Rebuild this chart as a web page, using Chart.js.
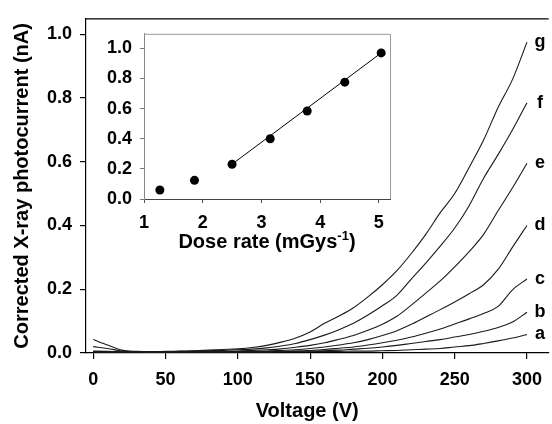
<!DOCTYPE html>
<html>
<head>
<meta charset="utf-8">
<script src="https://cdn.jsdelivr.net/npm/chart.js@4.4.1/dist/chart.umd.min.js"></script>
<style>
  body { margin: 0; background: #fff; }
  #wrap { position: relative; width: 552px; height: 424px; background: #fff; }
  #mainChart { position: absolute; left: 0; top: 0; }
  #insetChart { position: absolute; left: 88px; top: 15px; }
</style>
</head>
<body>
<div id="wrap">
  <canvas id="mainChart" width="552" height="424"></canvas>
  <canvas id="insetChart" width="310" height="240"></canvas>
</div>
<script>
/* ======================================
   DATA
====================================== */
const voltage = [0, 10, 20, 30, 40, 50, 60, 70, 80, 90, 100, 110, 120, 130, 140, 150,
                 160, 170, 180, 190, 200, 210, 220, 230, 240, 250, 260, 270, 280, 290, 300];

const curveA = [0.003, 0.003, 0.003, 0.003, 0.003, 0.003, 0.003, 0.003, 0.003, 0.003, 0.003, 0.003, 0.003, 0.004, 0.004, 0.004,
                0.005, 0.005, 0.006, 0.006, 0.007, 0.008, 0.010, 0.012, 0.014, 0.019, 0.023, 0.030, 0.038, 0.047, 0.058];
const curveB = [0.003, 0.003, 0.003, 0.003, 0.003, 0.003, 0.003, 0.003, 0.003, 0.003, 0.003, 0.004, 0.004, 0.004, 0.005, 0.006,
                0.007, 0.009, 0.012, 0.015, 0.019, 0.024, 0.030, 0.036, 0.042, 0.050, 0.058, 0.068, 0.080, 0.097, 0.128];
const curveC = [0.004, 0.003, 0.003, 0.003, 0.003, 0.003, 0.003, 0.003, 0.003, 0.004, 0.004, 0.004, 0.004, 0.005, 0.006, 0.008,
                0.011, 0.015, 0.019, 0.025, 0.032, 0.040, 0.050, 0.062, 0.075, 0.091, 0.107, 0.124, 0.146, 0.198, 0.232];
const curveD = [0.004, 0.004, 0.004, 0.004, 0.003, 0.003, 0.004, 0.004, 0.004, 0.004, 0.004, 0.005, 0.006, 0.008, 0.010, 0.014,
                0.019, 0.025, 0.032, 0.042, 0.055, 0.070, 0.090, 0.113, 0.136, 0.160, 0.186, 0.214, 0.262, 0.332, 0.400];
const curveE = [0.006, 0.005, 0.004, 0.004, 0.004, 0.004, 0.004, 0.005, 0.005, 0.005, 0.006, 0.008, 0.010, 0.013, 0.018, 0.024,
                0.032, 0.043, 0.055, 0.071, 0.090, 0.115, 0.150, 0.188, 0.226, 0.270, 0.318, 0.372, 0.446, 0.518, 0.595];
const curveF = [0.020, 0.014, 0.006, 0.004, 0.004, 0.004, 0.005, 0.006, 0.007, 0.008, 0.010, 0.012, 0.016, 0.022, 0.030, 0.042,
                0.056, 0.073, 0.093, 0.119, 0.148, 0.181, 0.232, 0.282, 0.335, 0.392, 0.462, 0.548, 0.622, 0.700, 0.785];
const curveG = [0.042, 0.025, 0.009, 0.005, 0.004, 0.005, 0.006, 0.007, 0.009, 0.011, 0.013, 0.017, 0.024, 0.034, 0.047, 0.066,
                0.093, 0.116, 0.142, 0.176, 0.214, 0.258, 0.312, 0.372, 0.440, 0.500, 0.582, 0.668, 0.770, 0.858, 0.975];

const curveNames = ["a", "b", "c", "d", "e", "f", "g"];
const curves = [curveA, curveB, curveC, curveD, curveE, curveF, curveG];

const xTicks = [0, 50, 100, 150, 200, 250, 300];
const yTicks = [0, 0.2, 0.4, 0.6, 0.8, 1.0];

// inset: photocurrent vs dose rate
const doseRate = [1.27, 1.86, 2.50, 3.15, 3.78, 4.42, 5.04];
const doseCurrent = [0.060, 0.124, 0.231, 0.400, 0.584, 0.776, 0.970];
const fitX = [2.50, 5.04];
const fitY = [0.231, 0.970];
const insetXTicks = [1, 2, 3, 4, 5];
const insetYTicks = [0, 0.2, 0.4, 0.6, 0.8, 1.0];

const FONT = "'Liberation Sans', Arial, sans-serif";
Chart.defaults.font.family = FONT;
Chart.defaults.font.weight = "bold";
Chart.defaults.color = "#000";

/* ======================================
   1. MAIN CHART: PHOTOCURRENT VS VOLTAGE
====================================== */
const curveLabels = {
  id: "curveLabels",
  afterDatasetsDraw(chart) {
    const { ctx, scales: { x, y } } = chart;
    ctx.save();
    ctx.font = "bold 18px " + FONT;
    ctx.fillStyle = "#000";
    ctx.textAlign = "center";
    ctx.textBaseline = "middle";
    curves.forEach((c, i) => {
      const last = c.length - 1;
      ctx.fillText(curveNames[i], x.getPixelForValue(voltage[last]) + 13, y.getPixelForValue(c[last]));
    });
    ctx.restore();
  },
  afterDraw(chart) {
    const { ctx, chartArea, scales: { x } } = chart;
    ctx.save();
    // top frame line
    ctx.strokeStyle = "#000";
    ctx.lineWidth = 1.2;
    ctx.beginPath();
    ctx.moveTo(chartArea.left, chartArea.top);
    ctx.lineTo(chartArea.right, chartArea.top);
    ctx.stroke();
    // x title, a bit left of the axis middle like the original
    ctx.font = "bold 20px " + FONT;
    ctx.fillStyle = "#000";
    ctx.textAlign = "center";
    ctx.textBaseline = "middle";
    ctx.fillText("Voltage (V)", x.getPixelForValue(148), 411);
    ctx.restore();
  }
};

new Chart(document.getElementById("mainChart"), {
  type: "line",
  data: {
    datasets: curves.map((c, i) => ({
      label: curveNames[i],
      data: voltage.map((v, j) => ({ x: v, y: c[j] })),
      borderColor: "#1a1a1a",
      borderWidth: 1.1,
      pointRadius: 0,
      fill: false,
      cubicInterpolationMode: "monotone"
    }))
  },
  plugins: [curveLabels],
  options: {
    responsive: false,
    animation: false,
    layout: { padding: { top: 14, right: 0, left: 0, bottom: 0 } },
    plugins: { legend: { display: false }, tooltip: { enabled: false } },
    scales: {
      x: {
        type: "linear",
        min: -5,
        max: 315,
        afterBuildTicks: s => { s.ticks = xTicks.map(v => ({ value: v })); },
        afterFit: s => { s.height = 71; },
        ticks: { font: { size: 18, weight: "bold" }, color: "#000", padding: 10, maxRotation: 0 },
        grid: { drawOnChartArea: false, drawTicks: true, tickLength: 6, color: "#000", lineWidth: 1.2 },
        border: { color: "#000", width: 1.2 }
      },
      y: {
        min: 0,
        max: 1.048,
        afterBuildTicks: s => { s.ticks = yTicks.map(v => ({ value: v })); },
        afterFit: s => { s.width = 86; },
        ticks: { font: { size: 18, weight: "bold" }, color: "#000", padding: 8, callback: v => v.toFixed(1) },
        grid: { drawOnChartArea: false, drawTicks: true, tickLength: 6, color: "#000", lineWidth: 1.2 },
        border: { color: "#000", width: 1.2 },
        title: { display: true, text: "Corrected X-ray photocurrent (nA)", font: { size: 20, weight: "bold" }, color: "#000", padding: { top: 10, bottom: 0 } }
      }
    }
  }
});

/* ======================================
   2. INSET: PHOTOCURRENT VS DOSE RATE
====================================== */
const insetFrame = {
  id: "insetFrame",
  afterDraw(chart) {
    const { ctx, chartArea } = chart;
    ctx.save();
    ctx.strokeStyle = "#999";
    ctx.lineWidth = 1;
    ctx.beginPath();
    ctx.moveTo(chartArea.left, chartArea.top + 0.5);
    ctx.lineTo(chartArea.right + 0.5, chartArea.top + 0.5);
    ctx.lineTo(chartArea.right + 0.5, chartArea.bottom);
    ctx.stroke();

    // x title with a real superscript
    const main = "Dose rate (mGys";
    const sup = "-1";
    const tail = ")";
    ctx.fillStyle = "#000";
    ctx.textBaseline = "alphabetic";
    ctx.textAlign = "left";
    ctx.font = "bold 20px " + FONT;
    const wMain = ctx.measureText(main).width;
    const wTail = ctx.measureText(tail).width;
    ctx.font = "bold 13px " + FONT;
    const wSup = ctx.measureText(sup).width;
    const cx = (chartArea.left + chartArea.right) / 2;
    let x0 = cx - (wMain + wSup + wTail) / 2;
    const base = 233;
    ctx.font = "bold 20px " + FONT;
    ctx.fillText(main, x0, base);
    ctx.font = "bold 13px " + FONT;
    ctx.fillText(sup, x0 + wMain, base - 8);
    ctx.font = "bold 20px " + FONT;
    ctx.fillText(tail, x0 + wMain + wSup, base);
    ctx.restore();
  }
};

new Chart(document.getElementById("insetChart"), {
  type: "scatter",
  data: {
    datasets: [
      {
        label: "fit",
        data: fitX.map((v, i) => ({ x: v, y: fitY[i] })),
        showLine: true,
        borderColor: "#000",
        borderWidth: 1,
        pointRadius: 0
      },
      {
        label: "measured",
        data: doseRate.map((v, i) => ({ x: v, y: doseCurrent[i] })),
        backgroundColor: "#000",
        borderColor: "#000",
        pointRadius: 4.5,
        pointBorderWidth: 0
      }
    ]
  },
  plugins: [insetFrame],
  options: {
    responsive: false,
    animation: false,
    layout: { padding: { top: 7, right: 8, left: 0, bottom: 0 } },
    plugins: { legend: { display: false }, tooltip: { enabled: false } },
    scales: {
      x: {
        type: "linear",
        min: 1,
        max: 5.19,
        afterBuildTicks: s => { s.ticks = insetXTicks.map(v => ({ value: v })); },
        afterFit: s => { s.height = 56; },
        ticks: { font: { size: 18, weight: "bold" }, color: "#000", padding: 9, maxRotation: 0 },
        grid: { drawOnChartArea: false, drawTicks: true, tickLength: 4, color: "#555" },
        border: { color: "#444", width: 1 }
      },
      y: {
        min: 0,
        max: 1.097,
        afterBuildTicks: s => { s.ticks = insetYTicks.map(v => ({ value: v })); },
        afterFit: s => { s.width = 56; },
        ticks: { font: { size: 18, weight: "bold" }, color: "#000", padding: 8, callback: v => v.toFixed(1) },
        grid: { drawOnChartArea: false, drawTicks: true, tickLength: 4, color: "#777" },
        border: { color: "#888", width: 1 }
      }
    }
  }
});
</script>
</body>
</html>
